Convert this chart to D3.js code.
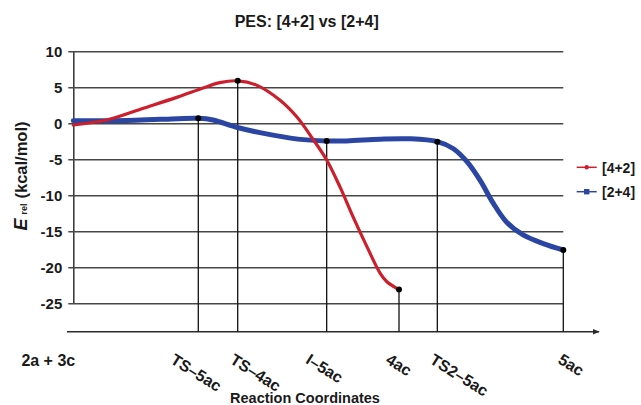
<!DOCTYPE html>
<html>
<head>
<meta charset="utf-8">
<script src="https://cdn.jsdelivr.net/npm/d3@7"></script>
<style>
  html, body { margin: 0; padding: 0; background: #fff; }
  svg { display: block; }
  text { font-family: "Liberation Sans", Arial, sans-serif; font-weight: bold; fill: #1a1a1a; }
</style>
</head>
<body>
<svg id="chart" width="641" height="405"></svg>
<script>
// ---------------- data ----------------
const chartTitle = "PES: [4+2] vs [2+4]";
const xTitle = "Reaction Coordinates";
const seriesNames = ["[4+2]", "[2+4]"];

// stationary points along the reaction coordinate
const stations = ["2a + 3c", "TS\u20135ac", "TS\u20134ac", "I\u20135ac", "4ac", "TS2\u20135ac", "5ac"];
const stationCoord = [0, 2.551, 3.355, 5.171, 6.647, 7.429, 10];
const stationEnergy = [null, 0.69, 5.9, -2.45, -23.1, -2.55, -17.6];

const yTicks = [10, 5, 0, -5, -10, -15, -20, -25];

// [4+2] path (red)
const redX = [0, 0.68, 1.43, 2.11, 2.65, 2.99, 3.355, 3.74, 4.22, 4.56, 4.90, 5.171, 5.44, 5.71, 5.99, 6.26, 6.40, 6.647];
const redY = [-0.24, 0.46, 2.1, 3.6, 4.9, 5.65, 5.9, 5.3, 3.2, 0.9, -2.3, -5.1, -8.8, -13.0, -17.1, -20.8, -22.0, -23.1];

// [2+4] path (blue)
const blueX = [0, 1.09, 1.77, 2.551, 2.85, 3.33, 3.81, 4.58, 5.171, 5.58, 6.26, 6.87, 7.429, 7.75, 8.03, 8.30, 8.57, 8.84, 9.18, 9.59, 10];
const blueY = [0.36, 0.38, 0.55, 0.69, 0.46, -0.55, -1.3, -2.2, -2.45, -2.45, -2.2, -2.15, -2.55, -3.5, -5.3, -7.9, -11.1, -13.7, -15.5, -16.7, -17.6];

// ---------------- layout ----------------
const svg = d3.select("#chart");
const plot = { left: 73.3, right: 563.3, top: 51.3, bottom: 303.3 };
const xAxisY = 331.7;
const RED = "#cc1f2c", BLUE = "#2b45a3";

const x = d3.scaleLinear().domain([0, 10]).range([plot.left, plot.right]);
const y = d3.scaleLinear().domain([-25, 10]).range([plot.bottom, plot.top]);

// title
svg.append("text").attr("x", 306.7).attr("y", 27.3)
  .attr("text-anchor", "middle").style("font-size", "16px").text(chartTitle);

// horizontal gridlines + y ticks via d3 axis
const yAxis = d3.axisLeft(y).tickValues(yTicks)
  .tickSize(-(plot.right - plot.left)).tickSizeOuter(0).tickPadding(11)
  .tickFormat(d => String(d));
const gy = svg.append("g").attr("transform", `translate(${plot.left},0)`).call(yAxis);
gy.select(".domain").attr("stroke", "#3f3f3f").attr("stroke-width", 1.6);
gy.selectAll(".tick line").attr("stroke", "#474747").attr("stroke-width", 1.6).attr("x1", -5);
gy.selectAll(".tick text").style("font-size", "15px").style("font-family", "'Liberation Sans', Arial, sans-serif")
  .style("font-weight", "bold").attr("fill", "#1a1a1a").attr("dy", "0.36em");

// y axis title
const yt = svg.append("text").attr("transform", "translate(27,176) rotate(-90)")
  .attr("text-anchor", "middle").style("font-size", "16.5px");
yt.append("tspan").style("font-style", "italic").style("font-size", "18px").text("E");
yt.append("tspan").style("font-size", "9px").attr("dx", 4).text("rel");
yt.append("tspan").attr("dx", 5).text("(kcal/mol)");

// x axis line with arrow
svg.append("defs").append("marker").attr("id", "arrow")
  .attr("viewBox", "0 0 10 10").attr("refX", 9).attr("refY", 5)
  .attr("markerWidth", 7).attr("markerHeight", 7).attr("markerUnits", "userSpaceOnUse")
  .attr("orient", "auto")
  .append("path").attr("d", "M0,1 L10,5 L0,9 Z").attr("fill", "#2a2a2a");
svg.append("line").attr("x1", 67).attr("x2", 599).attr("y1", xAxisY).attr("y2", xAxisY)
  .attr("stroke", "#2a2a2a").attr("stroke-width", 1.6).attr("marker-end", "url(#arrow)");

// drop lines from stationary points
const drops = stations.map((s, i) => ({ s, c: stationCoord[i], e: stationEnergy[i] })).filter(d => d.e !== null);
svg.append("g").selectAll("line").data(drops).join("line")
  .attr("x1", d => x(d.c)).attr("x2", d => x(d.c))
  .attr("y1", xAxisY).attr("y2", d => y(d.e))
  .attr("stroke", "#111").attr("stroke-width", 1.3);

// curves
const line = d3.line().x(d => x(d[0])).y(d => y(d[1])).curve(d3.curveCatmullRom.alpha(0.5));
svg.append("path").datum(d3.zip(blueX, blueY)).attr("d", line)
  .attr("fill", "none").attr("stroke", BLUE).attr("stroke-width", 5).attr("stroke-linecap", "round");
svg.append("path").datum(d3.zip(redX, redY)).attr("d", line)
  .attr("fill", "none").attr("stroke", RED).attr("stroke-width", 3.2).attr("stroke-linecap", "round");

// stationary point dots
svg.append("g").selectAll("circle").data(drops).join("circle")
  .attr("cx", d => x(d.c)).attr("cy", d => y(d.e)).attr("r", 3).attr("fill", "#000");

// x tick labels
const theta = 32, capH = 11, topY = 353;
const nudge = [-25, -2, 18, -2, 0, 22, 8];
stations.forEach((s, i) => {
  const t = svg.append("text").style("font-size", "16px").attr("text-anchor", "middle").text(s);
  if (i === 0) {
    t.attr("x", x(stationCoord[i]) + nudge[i]).attr("y", 366);
  } else {
    const L = t.node().getComputedTextLength();
    const rad = theta * Math.PI / 180;
    const cy = topY + (L * Math.sin(rad) + capH * Math.cos(rad)) / 2;
    const cx = x(stationCoord[i]) + nudge[i];
    t.attr("dy", "0.36em").attr("transform", `translate(${cx},${cy}) rotate(${theta})`);
  }
});

// x axis title
svg.append("text").attr("x", 305).attr("y", 403).attr("text-anchor", "middle")
  .style("font-size", "14.5px").text(xTitle);

// legend
const leg = svg.append("g");
[[RED, 167.3, "circle"], [BLUE, 191.7, "square"]].forEach(([c, ly, shape], i) => {
  leg.append("line").attr("x1", 576.7).attr("x2", 596.7).attr("y1", ly).attr("y2", ly)
    .attr("stroke", c).attr("stroke-width", 1.5);
  if (shape === "circle") leg.append("circle").attr("cx", 586.7).attr("cy", ly).attr("r", 2.2).attr("fill", c);
  else leg.append("rect").attr("x", 584).attr("y", ly - 2.7).attr("width", 5.4).attr("height", 5.4).attr("fill", c);
  leg.append("text").attr("x", 602).attr("y", ly + 5.3).style("font-size", "14px").text(seriesNames[i]);
});
</script>
</body>
</html>
